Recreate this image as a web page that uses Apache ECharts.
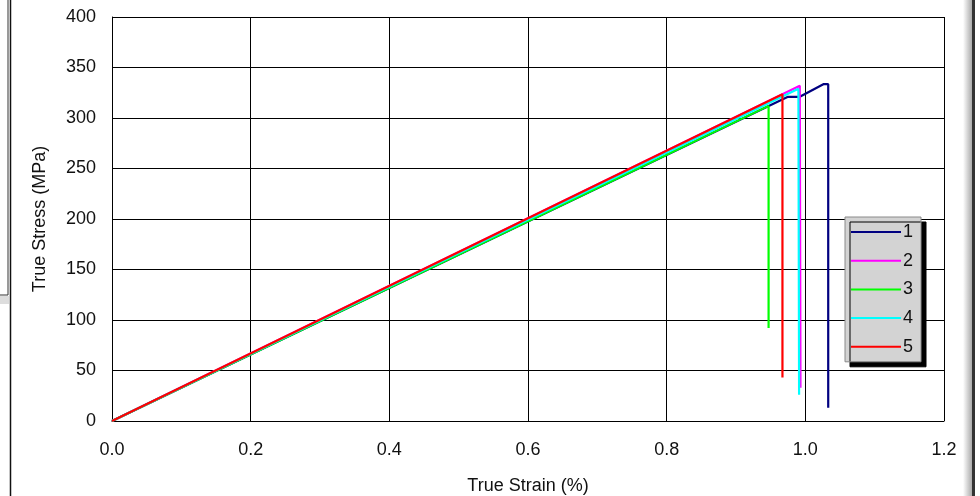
<!doctype html>
<html>
<head>
    <meta charset="UTF-8">
    <title>True Stress - True Strain</title>
    <script src="https://cdn.jsdelivr.net/npm/echarts@6/dist/echarts.min.js"></script>
    <style>
        html, body { margin: 0; padding: 0; background: #fff; }
        #main { width: 980px; height: 496px; }
    </style>
</head>
<body>
<div id="main"></div>
<script>
    // 数据
    var names = ['1', '2', '3', '4', '5'];
    var colors = ['#000080', '#ff00ff', '#00ff00', '#00ffff', '#ff0000'];
    var strain1 = [0, 0.975, 0.992, 1.026, 1.033, 1.033];
    var stress1 = [0, 321, 321, 333.5, 333.5, 13];
    var strain2 = [0, 0.992, 0.993];
    var stress2 = [0, 332, 33];
    var strain3 = [0, 0.947, 0.947];
    var stress3 = [0, 312, 92];
    var strain4 = [0, 0.990, 0.991];
    var stress4 = [0, 329, 26];
    var strain5 = [0, 0.967, 0.967];
    var stress5 = [0, 323.5, 43];
    var xTicks = [0, 0.2, 0.4, 0.6, 0.8, 1.0, 1.2];
    var yTicks = [0, 50, 100, 150, 200, 250, 300, 350, 400];

    var strains = [strain1, strain2, strain3, strain4, strain5];
    var stresses = [stress1, stress2, stress3, stress4, stress5];

    function pairs(xs, ys) {
        var out = [];
        for (var i = 0; i < xs.length; i++) out.push([xs[i], ys[i]]);
        return out;
    }

    var series = [];
    for (var k = 0; k < names.length; k++) {
        series.push({
            name: names[k],
            type: 'line',
            symbol: 'none',
            data: pairs(strains[k], stresses[k]),
            lineStyle: { color: colors[k], width: 2.2 },
            itemStyle: { color: colors[k] },
            animation: false
        });
    }

    var font = 'Liberation Sans, Arial, sans-serif';
    var myChart = echarts.init(document.getElementById('main'));
    var option = {
        backgroundColor: '#fff',
        animation: false,
        grid: { left: 112, right: 36, top: 17, bottom: 75, containLabel: false, outerBoundsMode: 'none' },
        legend: {
            orient: 'vertical',
            left: 845, top: 217,
            padding: [6, 8, 6, 5],
            itemWidth: 50, itemHeight: 14, itemGap: 10.7,
            backgroundColor: '#d3d3d3',
            borderColor: '#8a8a8a', borderWidth: 1,
            shadowColor: '#000', shadowBlur: 0, shadowOffsetX: 5, shadowOffsetY: 5,
            itemStyle: { opacity: 0 },   // 只显示线，不显示圆点
            textStyle: { fontFamily: font, fontSize: 18, color: '#111', padding: [0, 0, 0, -3] },
            data: names
        },
        xAxis: {
            type: 'value',
            min: 0, max: 1.2, interval: 0.2,
            name: 'True Strain (%)',
            nameLocation: 'middle', nameGap: 56,
            nameTextStyle: { fontFamily: font, fontSize: 18, color: '#111' },
            axisLine: { lineStyle: { color: '#000', width: 1 } },
            axisTick: { show: false },
            axisLabel: {
                fontFamily: font, fontSize: 18, color: '#111', margin: 20,
                formatter: function (v) { return v.toFixed(1); }
            },
            splitLine: { show: true, lineStyle: { color: '#000', width: 1 } }
        },
        yAxis: {
            type: 'value',
            min: 0, max: 400, interval: 50,
            name: 'True Stress (MPa)',
            nameLocation: 'middle', nameGap: 63,
            nameTextStyle: { fontFamily: font, fontSize: 18, color: '#111' },
            axisLine: { show: true, lineStyle: { color: '#000', width: 1 } },
            axisTick: { show: false },
            axisLabel: { fontFamily: font, fontSize: 18, color: '#111', margin: 16 },
            splitLine: { show: true, lineStyle: { color: '#000', width: 1 } }
        },
        graphic: [
            // 截图边缘的框线
            { type: 'rect', shape: { x: -2, y: -2, width: 10, height: 297 },
              style: { fill: 'none', stroke: '#333', lineWidth: 1 } },
            { type: 'rect', shape: { x: 0, y: 296, width: 9, height: 8 },
              style: { fill: '#ddd' } },
            { type: 'line', shape: { x1: 10.5, y1: 0, x2: 10.5, y2: 496 },
              style: { stroke: '#111', lineWidth: 1.5 } },
            { type: 'rect', shape: { x: 963, y: 0, width: 9, height: 496 },
              style: { fill: new echarts.graphic.LinearGradient(0, 0, 1, 0, [
                  { offset: 0, color: '#fff' }, { offset: 1, color: '#aaa' }]) } },
            { type: 'rect', shape: { x: 972, y: 0, width: 3, height: 496 },
              style: { fill: '#333' } }
        ],
        series: series
    };
    myChart.setOption(option, true);
</script>
</body>
</html>
